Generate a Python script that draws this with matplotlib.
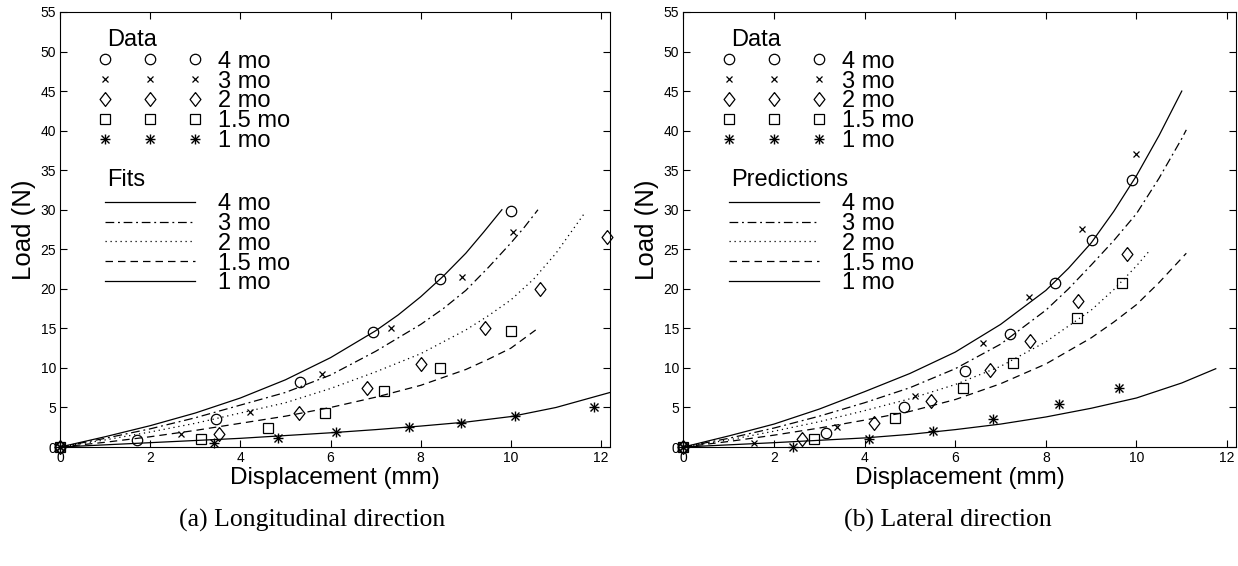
#!/usr/bin/env python3
"""Load vs displacement, longitudinal and lateral direction"""

import matplotlib
matplotlib.use("Agg")
import matplotlib.pyplot as plt

plt.rcParams['font.family'] = ['Liberation Sans', 'DejaVu Sans']

ages = ['4 mo', '3 mo', '2 mo', '1.5 mo', '1 mo']

# ---- (a) longitudinal: measured points
long_x = {
    '4 mo':   [0, 1.70, 3.45, 5.32, 6.94, 8.42, 10.0],
    '3 mo':   [0, 2.69, 4.22, 5.80, 7.35, 8.92, 10.04],
    '2 mo':   [0, 3.53, 5.30, 6.81, 8.00, 9.42, 10.64, 12.13],
    '1.5 mo': [0, 3.13, 4.61, 5.87, 7.18, 8.43, 10.0],
    '1 mo':   [0, 3.42, 4.84, 6.11, 7.74, 8.89, 10.08, 11.85],
}
long_y = {
    '4 mo':   [0, 0.9, 3.5, 8.2, 14.6, 21.2, 29.9],
    '3 mo':   [0, 1.7, 4.45, 9.2, 15.0, 21.5, 27.2],
    '2 mo':   [0, 1.6, 4.25, 7.5, 10.5, 15.1, 20.0, 26.5],
    '1.5 mo': [0, 0.97, 2.4, 4.3, 7.06, 10.0, 14.7],
    '1 mo':   [0, 0.47, 1.1, 1.85, 2.56, 3.07, 3.9, 5.08],
}
# ---- (a) fitted curves
fit_x = {
    '4 mo':   [0, 1, 2, 3, 4, 5, 6, 7, 7.5, 8, 8.5, 9, 9.4, 9.8],
    '3 mo':   [0, 1, 2, 3, 4, 5, 6, 7, 8, 8.5, 9, 9.5, 10, 10.3, 10.6],
    '2 mo':   [0, 1, 2, 3, 4, 5, 6, 7, 8, 9, 9.5, 10, 10.5, 11, 11.65],
    '1.5 mo': [0, 1, 2, 3, 4, 5, 6, 7, 8, 9, 9.5, 10, 10.55],
    '1 mo':   [0, 2, 4, 6, 7, 8, 9, 10, 11, 12.2],
}
fit_y = {
    '4 mo':   [0, 1.3, 2.7, 4.3, 6.2, 8.5, 11.3, 14.7, 16.7, 19.0, 21.6, 24.5, 27.2, 30.0],
    '3 mo':   [0, 1.1, 2.3, 3.7, 5.3, 6.9, 9.1, 12.1, 15.5, 17.5, 19.8, 22.7, 25.8, 27.8, 30.0],
    '2 mo':   [0, 0.9, 1.9, 3.0, 4.3, 5.6, 7.4, 9.5, 11.8, 14.8, 16.6, 18.6, 21.2, 24.5, 29.7],
    '1.5 mo': [0, 0.6, 1.3, 2.1, 3.0, 3.9, 5.0, 6.3, 7.8, 9.8, 11.1, 12.5, 14.8],
    '1 mo':   [0, 0.55, 1.1, 1.8, 2.2, 2.65, 3.15, 3.85, 5.0, 6.9],
}

# ---- (b) lateral: measured points
lat_x = {
    '4 mo':   [0, 3.15, 4.86, 6.22, 7.21, 8.20, 9.01, 9.91],
    '3 mo':   [0, 1.55, 3.40, 5.11, 6.62, 7.63, 8.79, 10.0],
    '2 mo':   [0, 2.62, 4.21, 5.47, 6.76, 7.64, 8.72, 9.79],
    '1.5 mo': [0, 2.89, 4.67, 6.18, 7.28, 8.68, 9.69],
    '1 mo':   [0, 2.43, 4.10, 5.52, 6.84, 8.30, 9.62],
}
lat_y = {
    '4 mo':   [0, 1.8, 5.1, 9.67, 14.3, 20.8, 26.2, 33.8],
    '3 mo':   [0, 0.5, 2.56, 6.4, 13.1, 19.0, 27.6, 37.0],
    '2 mo':   [0, 0.97, 3.0, 5.8, 9.8, 13.4, 18.5, 24.4],
    '1.5 mo': [0, 1.05, 3.66, 7.4, 10.6, 16.3, 20.8],
    '1 mo':   [0, 0.04, 1.05, 2.0, 3.6, 5.4, 7.4],
}
# ---- (b) predicted curves
pred_x = {
    '4 mo':   [0, 1, 2, 3, 4, 5, 6, 7, 8, 8.5, 9, 9.5, 10, 10.5, 11],
    '3 mo':   [0, 1, 2, 3, 4, 5, 6, 7, 8, 8.5, 9, 9.5, 10, 10.5, 11, 11.1],
    '2 mo':   [0, 1, 2, 3, 4, 5, 6, 7, 8, 9, 9.5, 10, 10.3],
    '1.5 mo': [0, 1, 2, 3, 4, 5, 6, 7, 8, 9, 9.5, 10, 10.5, 11.1],
    '1 mo':   [0, 2, 4, 5, 6, 7, 8, 9, 10, 11, 11.75],
}
pred_y = {
    '4 mo':   [0, 1.4, 2.9, 4.8, 7.0, 9.3, 12.0, 15.5, 19.8, 22.6, 25.8, 29.8, 34.3, 39.4, 45.0],
    '3 mo':   [0, 1.1, 2.4, 3.9, 5.6, 7.5, 9.9, 13.0, 17.3, 20.0, 23.0, 26.1, 29.5, 34.0, 39.0, 40.1],
    '2 mo':   [0, 0.9, 2.0, 3.2, 4.6, 6.1, 7.9, 10.2, 13.3, 17.3, 19.9, 22.9, 24.9],
    '1.5 mo': [0, 0.7, 1.5, 2.4, 3.4, 4.5, 6.0, 8.0, 10.5, 13.8, 15.8, 18.0, 20.8, 24.5],
    '1 mo':   [0, 0.55, 1.15, 1.6, 2.2, 2.9, 3.8, 4.9, 6.2, 8.1, 9.9],
}

diamond = [(0, 1), (0.78, 0), (0, -1), (-0.78, 0), (0, 1)]
markers = {'4 mo': 'o', '3 mo': 'x', '2 mo': diamond, '1.5 mo': 's', '1 mo': '*'}
msizes = {'4 mo': 7.5, '3 mo': 5, '2 mo': 10, '1.5 mo': 6.5, '1 mo': 7}
lstyles = {'4 mo': '-', '3 mo': (0, (7, 3, 1.5, 3)), '2 mo': (0, (1, 3)),
           '1.5 mo': (0, (6, 4)), '1 mo': '-'}

# legend text rows (data coordinates)
data_rows = [49.0, 46.5, 44.0, 41.5, 39.0]
line_rows = [31.0, 28.5, 26.0, 23.5, 21.0]
marker_cols = [1.0, 2.0, 3.0]
FS = 17


def draw_marker(ax, x, y, age):
    m = markers[age]
    if m == '*':
        # MATLAB style asterisk: plus and cross on top of each other
        ax.plot(x, y, linestyle='none', marker='+', ms=msizes[age],
                mec='k', mew=1.0, clip_on=False, zorder=4)
        ax.plot(x, y, linestyle='none', marker='x', ms=msizes[age] - 1.5,
                mec='k', mew=1.0, clip_on=False, zorder=4)
    else:
        ax.plot(x, y, linestyle='none', marker=m, ms=msizes[age], mfc='none',
                mec='k', mew=0.9, clip_on=False, zorder=4)


def panel(ax, px, py, cx, cy, title2):
    for age in ages:
        ax.plot(cx[age], cy[age], color='k', lw=0.9, linestyle=lstyles[age])
        draw_marker(ax, px[age], py[age], age)

    # in-axes legend, drawn like the original MATLAB figure
    ax.text(1.05, 51.5, 'Data', fontsize=FS, va='center', ha='left')
    for age, yr in zip(ages, data_rows):
        draw_marker(ax, marker_cols, [yr] * 3, age)
        ax.text(3.5, yr - 0.3, age, fontsize=FS, va='center', ha='left')
    ax.text(1.05, 33.8, title2, fontsize=FS, va='center', ha='left')
    for age, yr in zip(ages, line_rows):
        ax.plot([1.0, 3.0], [yr, yr], color='k', lw=0.9, linestyle=lstyles[age])
        ax.text(3.5, yr - 0.3, age, fontsize=FS, va='center', ha='left')

    ax.set_xlim(0, 12.2)
    ax.set_ylim(0, 55)
    ax.set_xticks(range(0, 13, 2))
    ax.set_yticks(range(0, 56, 5))
    ax.tick_params(direction='in', top=True, right=True, labelsize=10,
                   length=5, pad=3)
    for s in ax.spines.values():
        s.set_linewidth(0.8)
    ax.set_xlabel('Displacement (mm)', fontsize=17.5, labelpad=1)
    ax.set_ylabel('Load (N)', fontsize=18.5, labelpad=3)


fig = plt.figure(figsize=(12.38, 5.66), dpi=100)
ax1 = fig.add_axes([0.0485, 0.2102, 0.4443, 0.7686])
ax2 = fig.add_axes([0.552, 0.2102, 0.4465, 0.7686])

panel(ax1, long_x, long_y, fit_x, fit_y, 'Fits')
panel(ax2, lat_x, lat_y, pred_x, pred_y, 'Predictions')

fig.text(312 / 1238, 1 - 520 / 566, '(a) Longitudinal direction',
         fontsize=18.5, family='Liberation Serif', ha='center', va='center')
fig.text(948 / 1238, 1 - 520 / 566, '(b) Lateral direction',
         fontsize=18.5, family='Liberation Serif', ha='center', va='center')

fig.savefig('out.png', dpi=100)
plt.close(fig)
